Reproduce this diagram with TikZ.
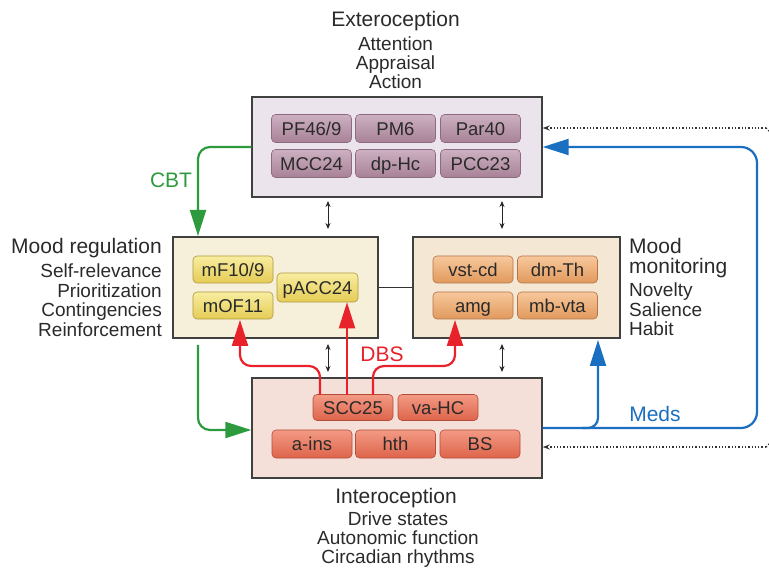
\documentclass[tikz,border=0pt]{standalone}
\usepackage{fontspec}
\setmainfont{Liberation Sans}
\usetikzlibrary{arrows.meta}

\definecolor{extfill}{HTML}{EBE4EC}
\definecolor{regfill}{HTML}{F6F0DA}
\definecolor{monfill}{HTML}{F4E7D4}
\definecolor{intfill}{HTML}{F4E0D9}
\definecolor{purtop}{HTML}{CDB0C2}
\definecolor{purbot}{HTML}{A88297}
\definecolor{purline}{HTML}{8E6A80}
\definecolor{yeltop}{HTML}{F8EDA0}
\definecolor{yelbot}{HTML}{E5CC55}
\definecolor{yelline}{HTML}{AE9840}
\definecolor{orntop}{HTML}{F7C89C}
\definecolor{ornbot}{HTML}{E1995C}
\definecolor{ornline}{HTML}{B47448}
\definecolor{saltop}{HTML}{F39A84}
\definecolor{salbot}{HTML}{DE644B}
\definecolor{salline}{HTML}{B44E3B}
\definecolor{cbtgreen}{HTML}{2E9A3E}
\definecolor{dbsred}{HTML}{E8212A}
\definecolor{medblue}{HTML}{1A6FC0}
\definecolor{txtgray}{HTML}{2A2A2A}

\tikzset{
  region/.style={draw=black!75, line width=1.4pt, inner sep=0pt},
  region node/.style={rounded corners=4pt, minimum width=80pt, minimum height=28pt,
    inner sep=0pt, font=\fontsize{18.5}{18.5}\selectfont, text=txtgray, line width=0.6pt,
    text height=13.2pt, text depth=0pt},
  purple node/.style={region node, draw=purline, top color=purtop, bottom color=purbot},
  yellow node/.style={region node, draw=yelline, top color=yeltop, bottom color=yelbot, minimum height=27pt},
  orange node/.style={region node, draw=ornline, top color=orntop, bottom color=ornbot, minimum height=27pt},
  salmon node/.style={region node, draw=salline, top color=saltop, bottom color=salbot},
  title/.style={font=\fontsize{21}{21}\selectfont, text=txtgray, inner sep=0pt, anchor=base},
  sub/.style={font=\fontsize{19}{19}\selectfont, text=txtgray, inner sep=0pt, anchor=base},
  big tip/.style={-{Triangle[length=26pt,width=16pt]}},
  therapy/.style={line width=2.2pt, rounded corners=12pt, big tip},
  link/.style={{Stealth[length=6pt,width=5pt]}-{Stealth[length=6pt,width=5pt]}, line width=0.9pt, black!85},
  feedback/.style={dotted, line width=1.3pt, black!80, -{Stealth[length=7pt,width=5pt]}},
  treat/.style={font=\fontsize{21}{21}\selectfont, inner sep=0pt, anchor=base}
}

\begin{document}
\begin{tikzpicture}[x=1pt, y=-1pt]
\useasboundingbox (0,0) rectangle (769,569);

% ---- region boxes ----
\node[region, fill=extfill, minimum width=290pt, minimum height=100pt] (ext) at (397,147) {};
\node[region, fill=regfill, minimum width=205pt, minimum height=101pt] (reg) at (275.5,287.5) {};
\node[region, fill=monfill, minimum width=207pt, minimum height=101pt] (mon) at (516.5,287.5) {};
\node[region, fill=intfill, minimum width=290pt, minimum height=100pt] (int) at (397,428) {};

% ---- exteroception areas ----
\node[purple node] (pf)  at (311.5,128.5) {PF46/9};
\node[purple node] (pm)  at (395.5,128.5) {PM6};
\node[purple node] (par) at (480.5,128.5) {Par40};
\node[purple node] (mcc) at (311.5,163.5) {MCC24};
\node[purple node] (dph) at (395.5,163.5) {dp-Hc};
\node[purple node] (pcc) at (480.5,163.5) {PCC23};

% ---- mood regulation areas ----
\node[yellow node] (mf)   at (233,269.5) {mF10/9};
\node[yellow node] (mof)  at (233,305.5) {mOF11};
\node[yellow node, minimum width=81pt, minimum height=29pt] (pacc) at (317.5,287.5) {pACC24};

% ---- mood monitoring areas ----
\node[orange node] (vst) at (473,269.5) {vst-cd};
\node[orange node] (dmt) at (557.5,269.5) {dm-Th};
\node[orange node] (amg) at (473,305.5) {amg};
\node[orange node] (mbv) at (557.5,305.5) {mb-vta};

% ---- interoception areas ----
\node[salmon node, minimum height=26pt] (scc) at (353,407.5) {SCC25};
\node[salmon node, minimum height=26pt] (vah) at (438,407.5) {va-HC};
\node[salmon node] (ains) at (312,444) {a-ins};
\node[salmon node] (hth)  at (395.5,444) {hth};
\node[salmon node] (bs)   at (480,444) {BS};

% ---- titles and functions ----
\node[title] (exttitle) at (395.5,27) {Exteroception};
\node[sub] at (395.5,50.5) {Attention};
\node[sub] at (395.5,69.5) {Appraisal};
\node[sub] at (395.5,88.5) {Action};

\node[title, anchor=base east] (regtitle) at (162,254) {Mood regulation};
\node[sub, anchor=base east] at (162,278) {Self-relevance};
\node[sub, anchor=base east] at (162,297.5) {Prioritization};
\node[sub, anchor=base east] at (162,317) {Contingencies};
\node[sub, anchor=base east] at (162,336.5) {Reinforcement};

\node[title, anchor=base west] (montitle) at (629,254) {Mood};
\node[title, anchor=base west] at (629,274) {monitoring};
\node[sub, anchor=base west] at (629,297) {Novelty};
\node[sub, anchor=base west] at (629,316.5) {Salience};
\node[sub, anchor=base west] at (629,336) {Habit};

\node[title] (inttitle) at (396,503) {Interoception};
\node[sub] at (398,525) {Drive states};
\node[sub] at (398,544.5) {Autonomic function};
\node[sub] at (398,563.5) {Circadian rhythms};

% ---- reciprocal links between regions ----
\draw[link] (328,201) -- (328,229);
\draw[link] (502,201) -- (502,229);
\draw[link] (328,344) -- (328,372);
\draw[link] (502,344) -- (502,372);
\draw[line width=1.2pt, black!80] (reg.east) -- (mon.west);

% ---- CBT ----
\draw[therapy, cbtgreen] (ext.west |- 0,147) -- (198,147) -- (198,236);
\draw[therapy, cbtgreen] (198,345) -- (198,430) -- (int.west |- 0,430);
\node[treat, text=cbtgreen] (cbt) at (171,188) {CBT};

% ---- DBS ----
\draw[therapy, dbsred, rounded corners=11pt] (320,395) -- (320,366) -- (240,366) -- (240,320);
\draw[therapy, dbsred] (347,395) -- (pacc.south -| 347,0);
\draw[therapy, dbsred, rounded corners=11pt] (373,395) -- (373,366) -- (455,366) -- (455,320);
\node[treat, text=dbsred] (dbs) at (382,362) {DBS};

% ---- Meds ----
\draw[therapy, medblue, rounded corners=16pt] (int.east |- 0,428) -- (757,428) -- (757,147) -- (ext.east |- 0,147);
\draw[therapy, medblue, rounded corners=10pt] (582,428) -| (598,340);
\node[treat, text=medblue] (meds) at (655,421) {Meds};

% ---- feedback ----
\coordinate (fbtop) at (766,128);
\coordinate (fbbot) at (766,447);
\draw[feedback] (fbtop) -- (ext.east |- fbtop);
\draw[feedback] (fbbot) -- (int.east |- fbbot);
\draw[dotted, line width=1.3pt, black!80] (fbtop) to[out=0,in=100] (769,132);
\draw[dotted, line width=1.3pt, black!80] (fbbot) to[out=0,in=-100] (769,443);
\end{tikzpicture}
\end{document}
